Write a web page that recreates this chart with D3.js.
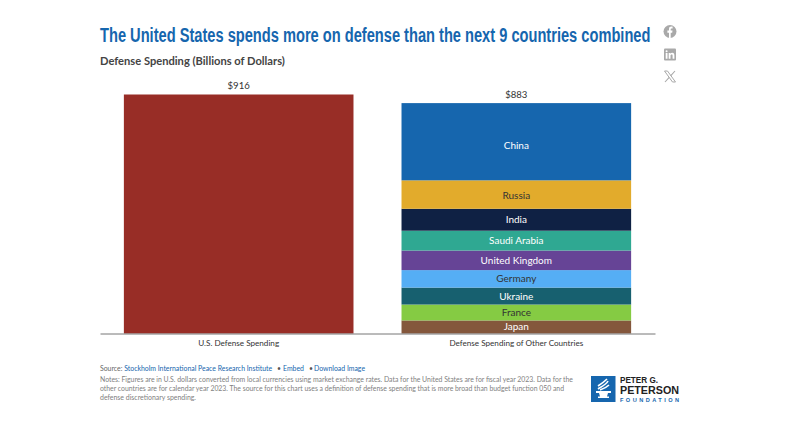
<!DOCTYPE html>
<html>
<head>
<meta charset="utf-8">
<script src="https://d3js.org/d3.v7.min.js"></script>
<style>
  html, body { margin: 0; background: #fff; }
  text { font-family: Lato, sans-serif; }
</style>
</head>
<body>
<svg id="chart" width="800" height="432"></svg>
<script>
// data
var categories = ["U.S. Defense Spending", "Defense Spending of Other Countries"];
var usTotal = 916;
var countries = ["Japan", "France", "Ukraine", "Germany", "United Kingdom", "Saudi Arabia", "India", "Russia", "China"];
var countryValues = [50, 61, 65, 67, 75, 76, 84, 109, 296];
var countryColors = ["#84573c", "#85cb43", "#17606f", "#55aef5", "#664496", "#2fa892", "#0f2144", "#e2ab2c", "#1666ae"];
var countryText = ["#fff", "#333", "#fff", "#333", "#fff", "#fff", "#fff", "#333", "#fff"];
var totals = [usTotal, d3.sum(countryValues)];

var svg = d3.select("#chart");

var x = d3.scaleBand().domain(categories).range([100, 655]).paddingInner(0.173).paddingOuter(0.086);
var y = d3.scaleLinear().domain([0, usTotal]).range([333.5, 94.5]);

// titles - the original face is condensed, so squeeze the text to the same width
var title = svg.append("text")
  .style("font-family", "'Liberation Sans Narrow', 'Liberation Sans', sans-serif")
  .style("font-weight", 700).style("font-size", "20.5px").attr("fill", "#1666ae")
  .text("The United States spends more on defense than the next 9 countries combined");
var titleScale = 551 / title.node().getComputedTextLength();
title.attr("transform", "translate(100,42) scale(" + titleScale + ",1)");

svg.append("text").attr("x", 100).attr("y", 65)
  .style("font-weight", 700).style("font-size", "11.15px").attr("fill", "#444")
  .text("Defense Spending (Billions of Dollars)");

// US bar
svg.append("rect")
  .attr("x", x(categories[0])).attr("width", x.bandwidth())
  .attr("y", y(usTotal)).attr("height", y(0) - y(usTotal))
  .attr("fill", "#982d26");

// stacked bar of the other countries
var row = {};
countries.forEach(function (c, i) { row[c] = countryValues[i]; });
var stacked = d3.stack().keys(countries)([row]);

var seg = svg.append("g").selectAll("g").data(stacked).enter().append("g");
seg.append("rect")
  .attr("x", x(categories[1])).attr("width", x.bandwidth())
  .attr("y", function (d) { return y(d[0][1]); })
  .attr("height", function (d) { return y(d[0][0]) - y(d[0][1]); })
  .attr("fill", function (d, i) { return countryColors[i]; });
seg.append("text")
  .attr("x", x(categories[1]) + x.bandwidth() / 2)
  .attr("y", function (d) {
    var mid = (y(d[0][0]) + y(d[0][1])) / 2;
    // the China and Russia labels sit a little below the middle
    if (d.key === "China") return mid + 4;
    if (d.key === "Russia") return mid + 1;
    return mid;
  })
  .attr("dy", "0.35em").attr("text-anchor", "middle")
  .style("font-size", "10px")
  .attr("fill", function (d, i) { return countryText[i]; })
  .text(function (d) { return d.key; });

// totals above the bars
svg.append("g").selectAll("text").data(totals).enter().append("text")
  .attr("x", function (d, i) { return x(categories[i]) + x.bandwidth() / 2; })
  .attr("y", function (d) { return y(d) - 5.5; })
  .attr("text-anchor", "middle")
  .style("font-size", "9.6px").attr("fill", "#333")
  .text(function (d) { return "$" + d; });

// axis
var axis = svg.append("g").attr("transform", "translate(0,333.5)")
  .call(d3.axisBottom(x).tickSize(0).tickPadding(7));
axis.select(".domain").attr("stroke", "#777");
axis.selectAll("text").style("font-family", "Lato, sans-serif").style("font-size", "8.15px").attr("fill", "#333");

// source line
var src = svg.append("text").attr("x", 100).attr("y", 370.5).style("font-size", "6.9px").attr("fill", "#1666ae");
src.append("tspan").attr("fill", "#666").text("Source: ");
src.append("tspan").text("Stockholm International Peace Research Institute");
src.append("tspan").attr("x", 277).attr("fill", "#555").text("\u2022");
src.append("tspan").attr("x", 283).text("Embed");
src.append("tspan").attr("x", 309).attr("fill", "#555").text("\u2022");
src.append("tspan").attr("x", 314).text("Download Image");

// notes
var notes = [
  "Notes: Figures are in U.S. dollars converted from local currencies using market exchange rates. Data for the United States are for fiscal year 2023. Data for the",
  "other countries are for calendar year 2023. The source for this chart uses a definition of defense spending that is more broad than budget function 050 and",
  "defense discretionary spending."
];
var noteWidths = [473, 464, 96];
svg.append("g").selectAll("text").data(notes).enter().append("text")
  .attr("x", 100).attr("y", function (d, i) { return 382 + i * 9.2; })
  .attr("textLength", function (d, i) { return noteWidths[i]; })
  .attr("lengthAdjust", "spacingAndGlyphs")
  .style("font-size", "6.6px").attr("fill", "#808080")
  .text(function (d) { return d; });

// social icons
var gray = "#a9a9a9";
var fb = svg.append("g").attr("transform", "translate(670,31.5)");
fb.append("circle").attr("r", 6.5).attr("fill", gray);
fb.append("path").attr("fill", "#fff")
  .attr("d", "M-1,6.5V1.2H-2.6V-1H-1V-2.6C-1,-4.2 0,-5 1.3,-5C2,-5 2.6,-4.9 2.6,-4.9V-3.1H1.7C0.9,-3.1 0.7,-2.7 0.7,-2.2V-1H2.5L2.2,1.2H0.7V6.5Z");
var li = svg.append("g").attr("transform", "translate(670,54.5)");
li.append("rect").attr("x", -6).attr("y", -6).attr("width", 12).attr("height", 12).attr("rx", 1).attr("fill", gray);
li.append("path").attr("fill", "#fff")
  .attr("d", "M-4.3,-1.5H-2.5V4.3H-4.3ZM-3.4,-4.3a1,1 0 1 1 0,2a1,1 0 1 1 0,-2ZM-1.3,-1.5H0.4V-0.7C0.8,-1.3 1.4,-1.7 2.3,-1.7C3.8,-1.7 4.4,-0.8 4.4,0.9V4.3H2.6V1.2C2.6,0.4 2.4,-0.1 1.6,-0.1C0.8,-0.1 0.5,0.5 0.5,1.2V4.3H-1.3Z");
var xIcon = svg.append("g").attr("transform", "translate(670,76.5)").attr("fill", "none").attr("stroke", gray);
xIcon.append("path").attr("stroke-width", 1).attr("d", "M-5.5,-5.5H-2.5L5.5,5.5H2.5Z");
xIcon.append("path").attr("stroke-width", 1.1).attr("d", "M5,-5.5L0.6,-0.6M-0.8,0.9L-5,5.5");

// logo
var logo = svg.append("g").attr("transform", "translate(591,376)");
logo.append("rect").attr("width", 24.5).attr("height", 26).attr("fill", "#1666ae");
logo.append("path").attr("fill", "#fff")
  .attr("d", "M5,15H20V17H17L16,20.5H18V22H7V20.5H9L8,17H5Z");
logo.append("path").attr("fill", "none").attr("stroke", "#fff").attr("stroke-width", 1.6)
  .attr("d", "M7,13C10,11 15,9 17,5M7,10C10,8 13,6 16,3M9,14C12,13 16,11 18,9");
svg.append("text").attr("x", 620).attr("y", 383)
  .style("font-family", "'Liberation Sans', sans-serif").style("font-weight", 700).style("font-size", "8.4px")
  .attr("textLength", 38).attr("lengthAdjust", "spacingAndGlyphs").attr("fill", "#222").text("PETER G.");
svg.append("text").attr("x", 620).attr("y", 393.5)
  .style("font-family", "'Liberation Sans', sans-serif").style("font-weight", 700).style("font-size", "10.6px")
  .attr("textLength", 59).attr("lengthAdjust", "spacingAndGlyphs").attr("fill", "#222").text("PETERSON");
svg.append("text").attr("x", 620).attr("y", 401.5)
  .style("font-family", "'Liberation Sans', sans-serif").style("font-weight", 700).style("font-size", "5.6px")
  .attr("textLength", 59).attr("lengthAdjust", "spacing").attr("fill", "#1666ae").text("FOUNDATION");
</script>
</body>
</html>
